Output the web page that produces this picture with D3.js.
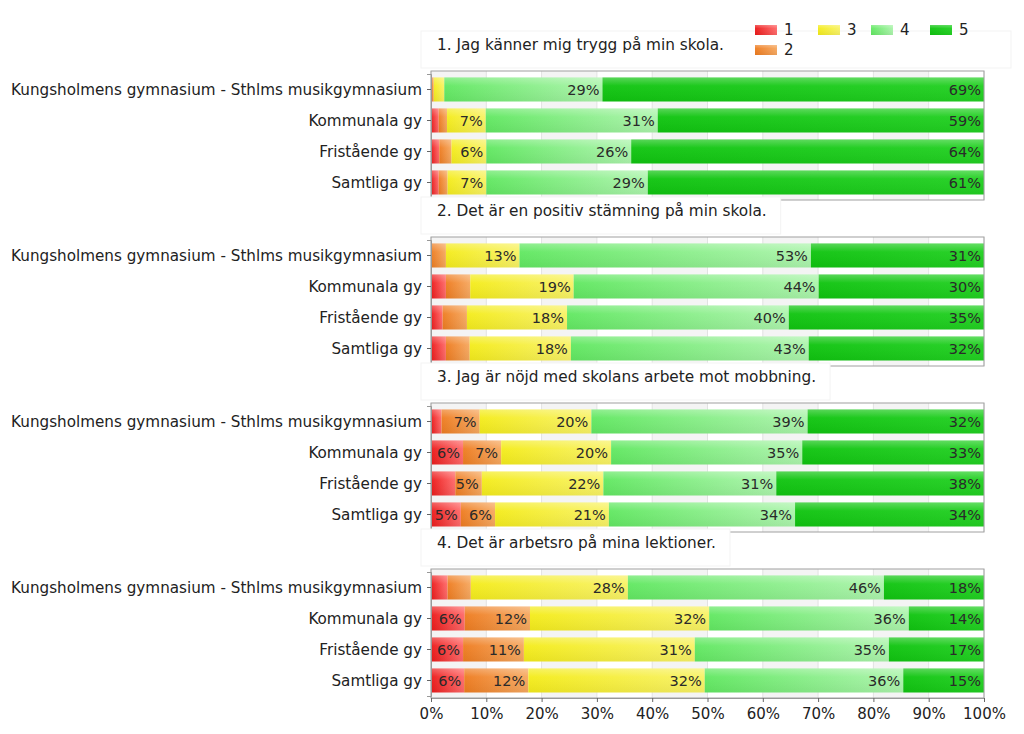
<!DOCTYPE html>
<html><head><meta charset="utf-8">
<script src="https://cdn.jsdelivr.net/npm/d3@7"></script>
<style>html,body{margin:0;padding:0;background:#fff}svg{display:block;font-family:"DejaVu Sans",Verdana,sans-serif}</style>
</head><body><svg id="c" width="1024" height="734"></svg>
<script>
const categories = ["Kungsholmens gymnasium - Sthlms musikgymnasium","Kommunala gy","Fristående gy","Samtliga gy"];
const questions = ["1. Jag känner mig trygg på min skola.","2. Det är en positiv stämning på min skola.","3. Jag är nöjd med skolans arbete mot mobbning.","4. Det är arbetsro på mina lektioner."];
const responseLevels = ["1","2","3","4","5"];
const xTicks = [0,10,20,30,40,50,60,70,80,90,100];
// values per category: [1,2,3,4,5] in percent
const q1 = [[0.2,0.3,1.9,28.6,69.0],[1.4,1.5,7.0,31.1,59.0],[1.5,2.2,6.3,26.2,63.8],[1.4,1.6,7.0,29.2,60.8]];
const q2 = [[0.0,2.7,13.3,52.7,31.3],[2.7,4.4,18.7,44.3,29.9],[2.1,4.4,18.1,40.1,35.3],[2.7,4.3,18.3,43.0,31.7]];
const q3 = [[1.9,6.9,20.2,39.1,31.9],[5.8,6.9,19.9,34.6,32.9],[4.4,4.8,22.0,31.3,37.6],[5.4,6.2,20.6,33.7,34.2]];
const q4 = [[3.0,4.2,28.4,46.3,18.1],[6.1,11.8,32.4,36.1,13.6],[5.8,11.0,30.9,35.1,17.2],[6.0,11.6,31.9,35.9,14.6]];
const allQ = [q1,q2,q3,q4];
const colors = ["#ec1a1a","#ee7c20","#f4ec1c","#62e862","#10c410"];
const lighter = ["#ff6a6a","#f6a860","#f8f266","#acf4ac","#22d022"];

const svg = d3.select("#c");
const defs = svg.append("defs");
colors.forEach((c,i)=>{
  const g = defs.append("linearGradient").attr("id","g"+i).attr("x1",0).attr("x2",1).attr("y1",0).attr("y2",0);
  g.append("stop").attr("offset","0%").attr("stop-color",c);
  g.append("stop").attr("offset","100%").attr("stop-color",lighter[i]);
});
const hl = defs.append("linearGradient").attr("id","hl").attr("x1",0).attr("x2",0).attr("y1",0).attr("y2",1);
hl.append("stop").attr("offset","0%").attr("stop-color","#fff").attr("stop-opacity",0.3);
hl.append("stop").attr("offset","35%").attr("stop-color","#fff").attr("stop-opacity",0.04);
hl.append("stop").attr("offset","100%").attr("stop-color","#000").attr("stop-opacity",0.05);

const x = d3.scaleLinear().domain([0,100]).range([431,984]);
const panelTops = [71,237,403,569];
const panelH = 129;

allQ.forEach((data,qi)=>{
  const top = panelTops[qi], bot = top+panelH;
  const g = svg.append("g");
  // title box
  const tb = g.append("rect").attr("x",421).attr("y",top-40).attr("height",37).attr("fill","#fff").attr("stroke","#f3f3f3");
  const tt = g.append("text").attr("x",437).attr("y",top-21).attr("font-size",15.3).attr("fill","#222").text(questions[qi]);
  const tw = tt.node().getComputedTextLength();
  tb.attr("width", qi===0 ? 590 : tw+30);
  // background bands
  for (let i=0;i<10;i++){
    g.append("rect").attr("x",x(i*10)).attr("y",top).attr("width",x(10)-x(0)).attr("height",panelH)
      .attr("fill", i%2===0 ? "#f4f4f4" : "#ffffff");
  }
  g.selectAll(".grid").data(xTicks).join("line").attr("x1",d=>x(d)).attr("x2",d=>x(d)).attr("y1",top).attr("y2",bot)
    .attr("stroke","#e2e2e2");
  const y = d3.scaleBand().domain(categories).range([top+3,top+127]).paddingInner(0.226).paddingOuter(0.113);
  data.forEach((row,ci)=>{
    const total = d3.sum(row);
    let cum = 0;
    const segs = row.map((v,k)=>{const s={k,v,a:cum/total*100,b:(cum+v)/total*100}; cum+=v; return s;});
    const rg = g.append("g");
    rg.selectAll("rect.s").data(segs.filter(s=>s.v>0)).join("rect").attr("class","s")
      .attr("x",s=>x(s.a)).attr("width",s=>x(s.b)-x(s.a)).attr("y",y(categories[ci])).attr("height",y.bandwidth())
      .attr("fill",s=>"url(#g"+s.k+")");
    rg.selectAll("rect.h").data(segs.filter(s=>s.v>0)).join("rect").attr("class","h")
      .attr("x",s=>x(s.a)).attr("width",s=>x(s.b)-x(s.a)).attr("y",y(categories[ci])).attr("height",y.bandwidth())
      .attr("fill","url(#hl)");
    rg.selectAll("text").data(segs.filter(s=>Math.round(s.v)>=5)).join("text")
      .attr("x",s=>x(s.b)-3).attr("y",y(categories[ci])+y.bandwidth()/2).attr("dy","0.36em")
      .attr("text-anchor","end").attr("font-size",14.5).attr("fill","#2a2a2a").text(s=>Math.round(s.v)+"%");
  });
  // frame
  g.append("rect").attr("x",x(0)).attr("y",top).attr("width",x(100)-x(0)).attr("height",panelH)
    .attr("fill","none").attr("stroke","#a0a0a0");
  const ya = d3.axisLeft(y).tickSize(4).tickPadding(5);
  const ay = g.append("g").attr("transform",`translate(${x(0)},0)`).call(ya);
  ay.select(".domain").attr("stroke","#999");
  ay.selectAll(".tick line").attr("stroke","#666");
  ay.selectAll("text").attr("font-size",15.2).attr("fill","#222").attr("font-family","DejaVu Sans, Verdana, sans-serif").attr("dy","0.36em");
  if (qi===3){
    const xa = d3.axisBottom(x).tickValues(xTicks).tickFormat(d=>d+"%").tickSize(4).tickPadding(6);
    const ax = g.append("g").attr("transform",`translate(0,${bot})`).call(xa);
    ax.select(".domain").attr("stroke","#999");
    ax.selectAll(".tick line").attr("stroke","#666");
    ax.selectAll("text").attr("font-size",15).attr("fill","#222").attr("font-family","DejaVu Sans, Verdana, sans-serif");
  }
});

// legend
const legOrder = [0,2,3,4,1];
const legPos = [[755,25],[818,25],[871,25],[930,25],[755,45]];
const lg = svg.append("g");
legOrder.forEach((k,i)=>{
  const [lx,ly] = legPos[i];
  lg.append("rect").attr("x",lx).attr("y",ly).attr("width",22).attr("height",10).attr("fill","url(#g"+k+")");
  lg.append("rect").attr("x",lx).attr("y",ly).attr("width",22).attr("height",10).attr("fill","url(#hl)");
  lg.append("text").attr("x",lx+29).attr("y",ly+5).attr("dy","0.36em").attr("font-size",15).attr("fill","#222").text(responseLevels[k]);
});
</script></body></html>
